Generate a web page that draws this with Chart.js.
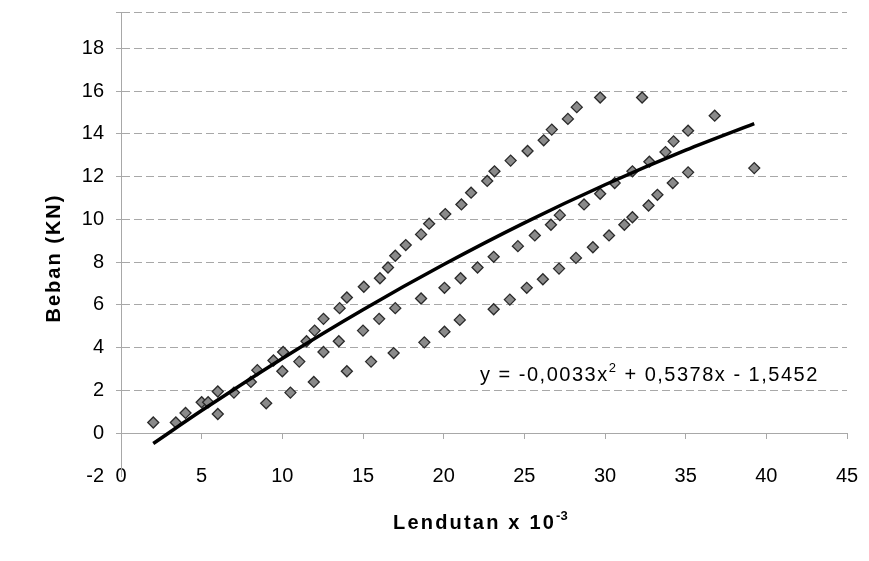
<!DOCTYPE html>
<html lang="id">
<head>
<meta charset="UTF-8" />
<title>Beban vs Lendutan</title>
<script src="https://cdn.jsdelivr.net/npm/chart.js"></script>
<style>
  body { margin: 0; background: #fff; }
  canvas { display: block; }
</style>
</head>
<body>
<canvas id="chart" width="869" height="561"></canvas>
<script>
// titik uji: lendutan (x 10^-3) dan beban (KN)
const lendutan = [
  2.0, 3.4, 4.0, 5.0, 5.4, 6.0, 6.0, 7.0, 8.05, 8.45, 9.0, 9.45, 10.05, 10.0, 10.5,
  11.05, 11.5, 11.95, 12.0, 12.55, 12.55, 13.5, 13.55, 14.0, 14.0, 15.0, 15.05, 15.5,
  16.05, 16.0, 16.55, 17.0, 17.0, 16.9, 17.65, 18.6, 19.1, 18.6, 18.8, 20.05, 20.05,
  21.05, 21.0, 22.1, 20.1, 21.1, 21.7, 22.7, 23.15, 24.15, 25.2, 26.2, 26.7, 27.7,
  28.25, 29.7, 32.3, 36.8, 35.15, 34.25, 33.75, 32.75, 31.7, 30.6, 29.7, 28.7, 27.2,
  26.65, 35.15, 39.25, 34.2, 33.25, 32.7, 31.7, 31.2, 25.65, 24.6, 23.1, 30.25, 29.25,
  28.2, 27.15, 26.15, 25.15, 24.1, 23.1
];
const beban = [
  0.5, 0.5, 0.95, 1.45, 1.45, 1.95, 0.9, 1.9, 2.4, 2.95, 1.4, 3.4, 3.8, 2.9, 1.9,
  3.35, 4.3, 2.4, 4.8, 3.8, 5.35, 4.3, 5.85, 2.9, 6.35, 4.8, 6.85, 3.35,
  7.25, 5.35, 7.75, 8.3, 5.85, 3.75, 8.8, 9.3, 9.8, 6.3, 4.25, 6.8, 4.75,
  7.25, 5.3, 7.75, 10.25, 10.7, 11.25, 11.8, 12.25, 12.75, 13.2, 13.7, 14.2, 14.7,
  15.25, 15.7, 15.7, 14.85, 14.15, 13.65, 13.15, 12.7, 12.25, 11.7, 11.2, 10.7, 10.2,
  9.75, 12.2, 12.4, 11.7, 11.15, 10.65, 10.1, 9.75, 9.25, 8.75, 8.25, 9.25, 8.7,
  8.2, 7.7, 7.2, 6.8, 6.25, 5.8
];

// garis trend (polinomial orde 2), titik dibaca sepanjang kurva
const trendX = [2, 5, 10, 15, 20, 25, 30, 35, 39.25];
const trendY = [-0.48, 1.06, 3.5, 5.78, 7.89, 9.84, 11.62, 13.24, 14.48];

const yTicks = [-2, 0, 2, 4, 6, 8, 10, 12, 14, 16, 18];
const yTop = 19.7;

const yTitle = 'Beban (KN)';
const xTitle = 'Lendutan x 10';
const xTitleSup = '-3';
const eqMain = 'y = -0,0033x';
const eqSup = '2';
const eqRest = ' + 0,5378x - 1,5452';

const FONT = '"Liberation Sans", Arial, sans-serif';
const gridGrey = '#a8a8a8';

// judul sumbu dan persamaan trend
const labels = {
  id: 'labels',
  afterDraw(chart) {
    const ctx = chart.ctx;
    ctx.save();
    ctx.fillStyle = '#000';
    ctx.textBaseline = 'alphabetic';

    ctx.save();
    ctx.font = 'bold 20px ' + FONT;
    ctx.letterSpacing = '2px';
    ctx.translate(60, 258);
    ctx.rotate(-Math.PI / 2);
    ctx.textAlign = 'center';
    ctx.fillText(yTitle, 0, 0);
    ctx.restore();

    ctx.textAlign = 'left';
    ctx.font = 'bold 20px ' + FONT;
    ctx.letterSpacing = '2.2px';
    let x = 393;
    ctx.fillText(xTitle, x, 529);
    x += ctx.measureText(xTitle).width;
    ctx.font = 'bold 13px ' + FONT;
    ctx.letterSpacing = '0px';
    ctx.fillText(xTitleSup, x, 520);

    ctx.font = '20px ' + FONT;
    ctx.letterSpacing = '1.5px';
    x = 480;
    ctx.fillText(eqMain, x, 381);
    x += ctx.measureText(eqMain).width;
    ctx.font = '13px ' + FONT;
    ctx.fillText(eqSup, x, 372);
    x += ctx.measureText(eqSup).width;
    ctx.font = '20px ' + FONT;
    ctx.fillText(eqRest, x, 381);
    ctx.restore();
  }
};

const noPad = scale => {
  scale.paddingLeft = 0;
  scale.paddingRight = 0;
  scale.paddingTop = 0;
  scale.paddingBottom = 0;
};

new Chart(document.getElementById('chart'), {
  type: 'scatter',
  data: {
    datasets: [
      {
        label: 'Trend',
        data: trendX.map((x, i) => ({ x, y: trendY[i] })),
        showLine: true,
        borderColor: '#000',
        borderWidth: 3.5,
        pointRadius: 0,
        cubicInterpolationMode: 'monotone'
      },
      {
        label: 'Beban',
        data: lendutan.map((x, i) => ({ x, y: beban[i] })),
        pointStyle: 'rectRot',
        pointRadius: 5.5,
        backgroundColor: '#8a8a8a',
        borderColor: '#2a2a2a',
        borderWidth: 1.3
      }
    ]
  },
  options: {
    responsive: false,
    animation: false,
    layout: { padding: { top: 12, right: 22, bottom: 85, left: 0 } },
    plugins: { legend: { display: false }, tooltip: { enabled: false } },
    scales: {
      x: {
        type: 'linear',
        min: 0,
        max: 45,
        position: { y: 0 },
        afterFit: noPad,
        ticks: { stepSize: 5, color: '#000', font: { size: 20, family: FONT }, padding: 26, maxRotation: 0 },
        grid: { drawOnChartArea: false, drawTicks: true, tickLength: 5, color: gridGrey },
        border: { display: true, color: gridGrey, dash: [8, 4] }
      },
      y: {
        type: 'linear',
        min: -2,
        max: yTop,
        afterBuildTicks: scale => { scale.ticks = yTicks.concat([yTop]).map(v => ({ value: v })); },
        afterFit: scale => { noPad(scale); scale.width = 121; },
        ticks: {
          color: '#000',
          font: { size: 20, family: FONT },
          padding: 12,
          callback: v => (yTicks.includes(v) ? v : '')
        },
        grid: {
          tickLength: 5,
          color: c => (c.tick && c.tick.value === -2 ? 'rgba(0,0,0,0)' : gridGrey)
        },
        border: { display: true, color: gridGrey, dash: [8, 4] }
      }
    }
  },
  plugins: [labels]
});
</script>
</body>
</html>
